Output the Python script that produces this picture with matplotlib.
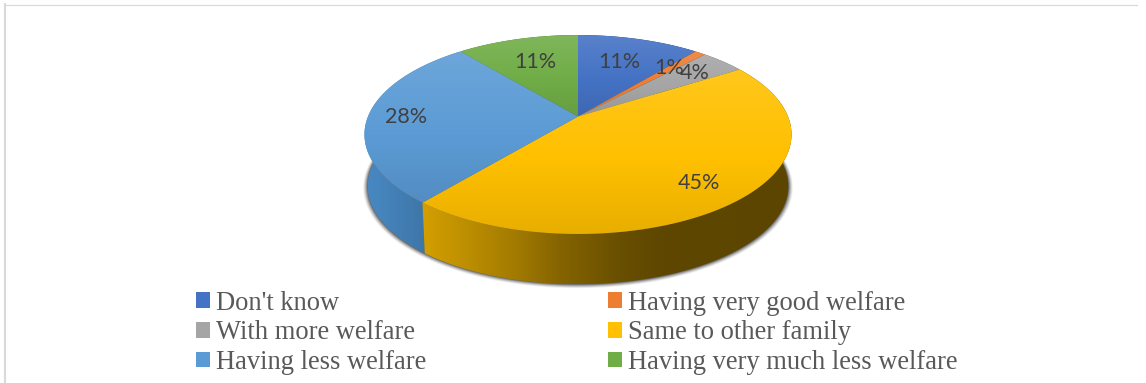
import numpy as np
import matplotlib
matplotlib.use("Agg")
import matplotlib.pyplot as plt
from matplotlib.patches import Patch, Polygon

# data
categories = ["Don't know", "Having very good welfare", "With more welfare",
              "Same to other family", "Having less welfare", "Having very much less welfare"]
values = [11, 1, 4, 45, 28, 11]
colors = ["#4472C4", "#ED7D31", "#A5A5A5", "#FFC000", "#5B9BD5", "#70AD47"]
wall_colors = ["#4472C4", "#ED7D31", "#A5A5A5", "#FFC000", "#4F96D6", "#70AD47"]

# where the percent labels sit, in image pixels
label_xy = [(619, 62), (669, 68), (695, 73), (699, 183), (406, 117), (535, 62)]

# pie geometry in image pixels, the perspective comes from persp
cx, cy = 578, 116.5
a, b, k = 210, 96.2, 0.181
depth, bottom_scale = 52, 0.985


def persp(theta):
    # theta is clockwise from 12 o'clock
    x, y = np.sin(theta), np.cos(theta)
    w = 1 + k * y
    return a * x / w, -b * y / w


def rgb(c):
    return np.array(matplotlib.colors.to_rgb(c))


def top_shade(color, n=100):
    # lighter at the top of the slice, darker at the bottom
    t = np.linspace(0, 1, n)
    light = np.interp(t, [0, 0.55, 1], [0.11, 0, 0])
    dark = np.interp(t, [0, 0.55, 1], [0, 0, 0.09])
    col = rgb(color)
    out = col[None, :] * (1 - light - dark)[:, None] + light[:, None]
    return out[:, None, :]


def gradient_poly(ax, poly, img, zorder):
    x0, y0 = poly.min(axis=0)
    x1, y1 = poly.max(axis=0)
    im = ax.imshow(img, extent=(x0, x1, y1, y0), aspect="auto", zorder=zorder, interpolation="bilinear")
    im.set_clip_path(Polygon(poly, closed=True, transform=ax.transData))


fig = plt.figure(figsize=(11.46, 3.83), dpi=100)
ax = fig.add_axes([0, 0, 1, 1])

edges = np.cumsum([0] + values) / sum(values) * 2 * np.pi

# soft shadow under the pie
t = np.linspace(0, 2 * np.pi, 300)
sx, sy = persp(t)
for grow, alpha in [(4.5, 0.08), (3.5, 0.14), (2.5, 0.2), (1.5, 0.3), (0.5, 0.4)]:
    px = cx + bottom_scale * sx * (1 + grow / 213)
    py = cy + depth + bottom_scale * sy * (1 + grow / 170) + grow * 0.2
    ax.fill(px, py, color="#303030", alpha=alpha, lw=0, zorder=1)

# side wall, only the yellow and blue ones can be seen
wall_x = [364, 427, 515, 560, 620, 660, 800]
wall_yellow = [0.82, 0.82, 0.64, 0.52, 0.41, 0.37, 0.36]
wall_other = [0.92, 0.78, 0.7, 0.6, 0.5, 0.5, 0.5]
for i, c in enumerate(wall_colors):
    th = np.linspace(edges[i], edges[i + 1], 150)
    x, y = persp(th)
    top = np.column_stack([cx + x, cy + y])
    bot = np.column_stack([cx + bottom_scale * x, cy + depth + bottom_scale * y])
    poly = np.vstack([top, bot[::-1]])
    xs = np.linspace(poly[:, 0].min(), poly[:, 0].max(), 200)
    f = np.interp(xs, wall_x, wall_yellow if i == 3 else wall_other)
    img = rgb(c)[None, None, :] * f[None, :, None]
    gradient_poly(ax, poly, img, 2 + (i == 3))

# top surface
for i, c in enumerate(colors):
    th = np.linspace(edges[i], edges[i + 1], 150)
    x, y = persp(th)
    poly = np.vstack([[cx, cy], np.column_stack([cx + x, cy + y])])
    gradient_poly(ax, poly, top_shade(c), 4)

for v, (lx, ly) in zip(values, label_xy):
    ax.text(lx, ly, "%d%%" % v, ha="center", va="center", fontsize=15.5, family="Lato",
            color="#404040", zorder=6)

# frame around the chart
ax.plot([5, 5], [383, 4], color="#D9D9D9", lw=1.5, zorder=0)
ax.plot([5, 1137], [4.5, 4.5], color="#D9D9D9", lw=0.9, zorder=0)

handles = [Patch(facecolor=c, edgecolor="none") for c in colors]
# legend fills row by row in the original
order = [0, 2, 4, 1, 3, 5]
leg = ax.legend([handles[i] for i in order], [categories[i] for i in order], ncols=2,
                loc="upper left", bbox_to_anchor=(196 / 1146, 1 - 290.5 / 383), frameon=False,
                prop={"family": "Liberation Serif", "size": 19.1}, labelcolor="#595959",
                handlelength=0.53, handleheight=0.53, handletextpad=0.23, labelspacing=0.18,
                columnspacing=6.85, borderpad=0, borderaxespad=0)

ax.set_xlim(0, 1146)
ax.set_ylim(383, 0)
ax.axis("off")
fig.savefig("out.png", dpi=100)
